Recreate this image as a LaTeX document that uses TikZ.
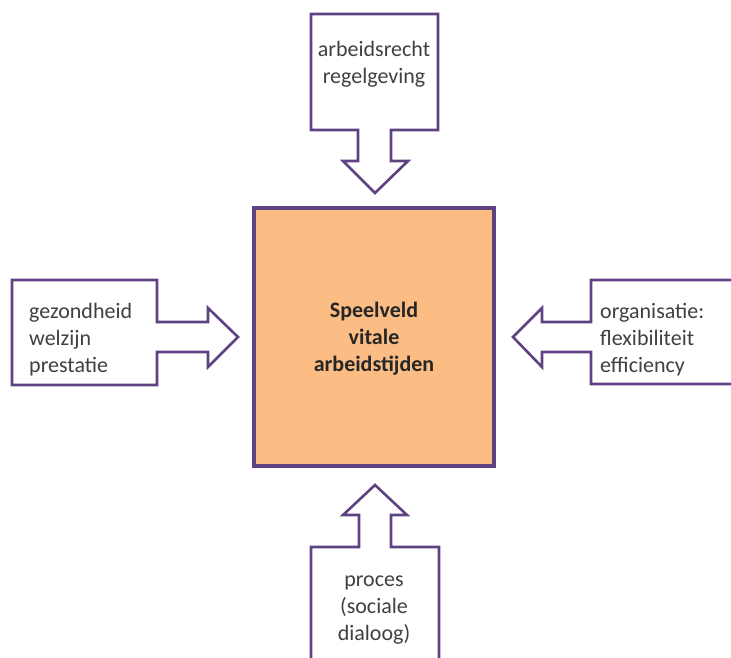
\documentclass[tikz,border=0pt]{standalone}
\usepackage{fontspec}
\setmainfont{Carlito}
\definecolor{callpurple}{RGB}{94,66,130}
\definecolor{boxorange}{RGB}{251,189,131}
\definecolor{txtgray}{RGB}{64,64,64}
\tikzset{
  callout/.style={draw=callpurple, line width=2.6pt, fill=white, line join=miter},
  mainbox/.style={draw=callpurple, line width=3.4pt, fill=boxorange, inner sep=0pt},
  lbl/.style={inner sep=0pt, anchor=base, text=txtgray, font=\fontsize{22}{27}\selectfont},
  lblw/.style={lbl, anchor=base west},
  mainlbl/.style={inner sep=0pt, anchor=base, text=black!85, font=\fontsize{22}{27}\selectfont\bfseries}
}
\begin{document}
\begin{tikzpicture}[x=1pt,y=-1pt]
\useasboundingbox (0,0) rectangle (731,657);
\clip (0,0) rectangle (731,657);
% center box
\node[mainbox, minimum width=240pt, minimum height=258pt] (center) at (374,337) {};
% top callout
\draw[callout] (311,14) -- (438,14) -- (438,130) -- (391,130) -- (391,161) -- (408,161) -- (375,193) -- (343,161) -- (358,161) -- (358,130) -- (311,130) -- cycle;
% left callout
\draw[callout] (12,280) -- (157,280) -- (157,322) -- (208,322) -- (208,308) -- (238,337) -- (208,367) -- (208,352) -- (157,352) -- (157,385) -- (12,385) -- cycle;
% right callout
\draw[callout] (750,280) -- (591,280) -- (591,322) -- (542,322) -- (542,308) -- (513,337) -- (542,367) -- (542,352) -- (591,352) -- (591,384) -- (750,384);
% bottom callout
\draw[callout] (311,680) -- (311,547) -- (359,547) -- (359,515) -- (343,515) -- (375,485) -- (407,515) -- (391,515) -- (391,547) -- (439,547) -- (439,680);
% texts
\node[lbl] (ttop) at (374,56) {\begin{tabular}[t]{@{}c@{}}arbeidsrecht\\regelgeving\end{tabular}};
\node[lblw] (tleft) at (29,318) {\begin{tabular}[t]{@{}l@{}}gezondheid\\welzijn\\prestatie\end{tabular}};
\node[lblw] (tright) at (600,318) {\begin{tabular}[t]{@{}l@{}}organisatie:\\flexibiliteit\\efficiency\end{tabular}};
\node[lbl] (tbottom) at (374,586) {\begin{tabular}[t]{@{}c@{}}proces\\(sociale\\dialoog)\end{tabular}};
\node[mainlbl] (tcenter) at (374,317) {\begin{tabular}[t]{@{}c@{}}Speelveld\\vitale\\arbeidstijden\end{tabular}};
\end{tikzpicture}
\end{document}
